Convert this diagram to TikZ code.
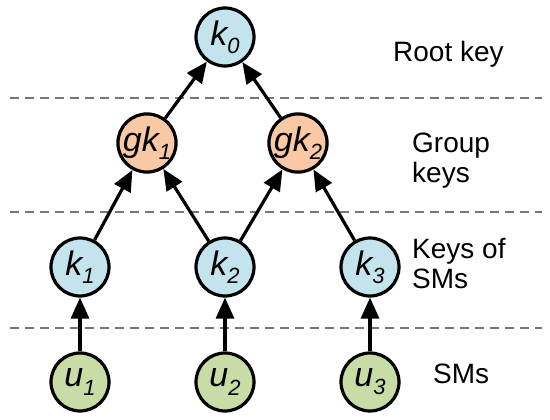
\documentclass[tikz,border=0pt]{standalone}
\usepackage{fontspec}
\setmainfont{Liberation Sans}
\usetikzlibrary{arrows.meta}
\definecolor{keyblue}{HTML}{C3E4EC}
\definecolor{grouporange}{HTML}{F9C8A4}
\definecolor{smgreen}{HTML}{C8DCA6}
\definecolor{dashgray}{HTML}{777777}
\newcommand{\keylab}[2]{\fontsize{34}{34}\selectfont\itshape #1\raisebox{-0.24em}{\fontsize{22}{22}\selectfont #2}}
\tikzset{
  keynode/.style={circle, draw=black, line width=3.2pt, minimum size=58pt, inner sep=0pt},
  bluekey/.style={keynode, fill=keyblue},
  orangekey/.style={keynode, fill=grouporange},
  greenkey/.style={keynode, fill=smgreen},
  layerline/.style={draw=dashgray, line width=1.6pt, dash pattern=on 9pt off 6pt},
  keyarrow/.style={draw=black, line width=3.2pt, -{Triangle[length=21pt,width=18pt]}},
  layerlabel/.style={font=\fontsize{28}{30}\selectfont, inner sep=0pt, align=left}
}
\begin{document}
\begin{tikzpicture}[x=1pt,y=-1pt]
\useasboundingbox (0,0) rectangle (550,420);
% layer separators
\coordinate (l1a) at (10,98);  \coordinate (l1b) at (542,98);
\coordinate (l2a) at (10,212); \coordinate (l2b) at (542,212);
\coordinate (l3a) at (10,328); \coordinate (l3b) at (542,328);
\draw[layerline] (l1a) -- (l1b);
\draw[layerline] (l2a) -- (l2b);
\draw[layerline] (l3a) -- (l3b);
% nodes
\node[bluekey] (k0) at (225,37) {\keylab{k}{0}};
\node[orangekey] (gk1) at (147,143) {\keylab{gk}{1}};
\node[orangekey] (gk2) at (298,143) {\keylab{gk}{2}};
\node[bluekey] (k1) at (80,267) {\keylab{k}{1}};
\node[bluekey] (k2) at (225,267) {\keylab{k}{2}};
\node[bluekey] (k3) at (370,267) {\keylab{k}{3}};
\node[greenkey] (u1) at (80,382) {\keylab{u}{1}};
\node[greenkey] (u2) at (225,382) {\keylab{u}{2}};
\node[greenkey] (u3) at (370,382) {\keylab{u}{3}};
% arrows
\draw[keyarrow] (gk1) -- (k0);
\draw[keyarrow] (gk2) -- (k0);
\draw[keyarrow] (k1) -- (gk1);
\draw[keyarrow] (k2) -- (gk1);
\draw[keyarrow] (k2) -- (gk2);
\draw[keyarrow] (k3) -- (gk2);
\draw[keyarrow] (u1) -- (k1);
\draw[keyarrow] (u2) -- (k2);
\draw[keyarrow] (u3) -- (k3);
% labels
\node[layerlabel, anchor=base west] (lroot) at (393,62) {Root key};
\node[layerlabel, anchor=north west] (lgroup) at (412,133) {Group\\keys};
\node[layerlabel, anchor=north west] (lkeys) at (412,238) {Keys of\\SMs};
\node[layerlabel, anchor=base west] (lsms) at (433,383) {SMs};
\end{tikzpicture}
\end{document}
